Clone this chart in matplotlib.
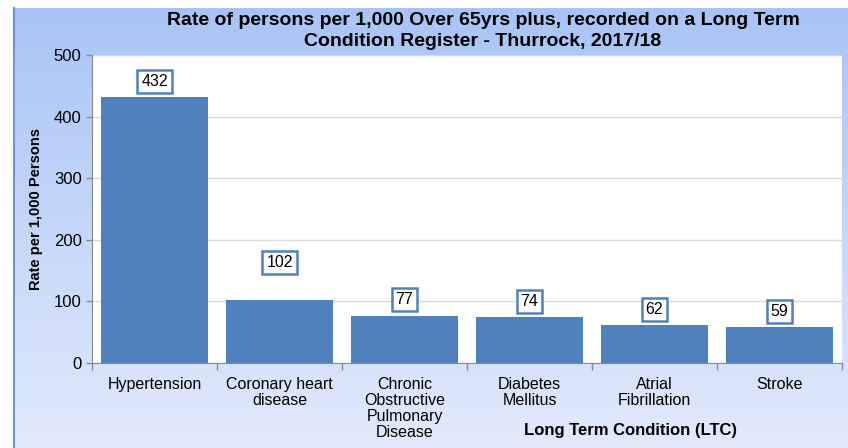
import numpy as np
import matplotlib.pyplot as plt
from matplotlib.colors import LinearSegmentedColormap

plt.rcParams['font.family'] = ['Liberation Sans', 'DejaVu Sans']

# Data
conditions = ['Hypertension', 'Coronary heart\ndisease', 'Chronic\nObstructive\nPulmonary\nDisease',
              'Diabetes\nMellitus', 'Atrial\nFibrillation', 'Stroke']
rates = [432, 102, 77, 74, 62, 59]
# label box offsets above bar tops (points)
label_offsets = [11, 27, 11.5, 11.5, 11, 11]

BAR_COLOR = '#4f81bd'

fig = plt.figure(figsize=(8.48, 4.48), dpi=100)
fig.patch.set_facecolor('white')

# gradient background box of the chart (dark blue at top, pale at bottom)
bg = fig.add_axes([14 / 848, 0, 1 - 14 / 848, 440 / 448], zorder=0)
grad = np.linspace(0, 1, 256).reshape(-1, 1)
cmap = LinearSegmentedColormap.from_list('bg', ['#e2eafc', '#a8c4f6'])
bg.imshow(grad, aspect='auto', cmap=cmap, extent=[0, 1, 0, 1], origin='lower')
bg.set_xlim(0, 1)
bg.set_ylim(0, 1)
bg.set_xticks([])
bg.set_yticks([])
for side in ['top', 'right', 'bottom']:
    bg.spines[side].set_visible(False)
bg.spines['left'].set_color('#6f95d6')
bg.spines['left'].set_linewidth(1.5)

ax = fig.add_axes([92 / 848, 85 / 448, 750 / 848, 308 / 448], zorder=1)
ax.set_facecolor('white')
x = np.arange(len(conditions))
bars = ax.bar(x, rates, width=0.86, color=BAR_COLOR, zorder=3)

for xi, v, off in zip(x, rates, label_offsets):
    ax.annotate(str(v), xy=(xi, v), xytext=(0, off), textcoords='offset points',
                ha='center', va='center', fontsize=11.5, zorder=4,
                bbox=dict(boxstyle='square,pad=0.25', fc='white', ec=BAR_COLOR, lw=1.8))

ax.set_xlim(-0.5, len(conditions) - 0.5)
ax.set_ylim(0, 500)
ax.set_yticks(range(0, 501, 100))
ax.yaxis.grid(True, color='#d9d9d9', lw=1, zorder=0)
ax.tick_params(axis='y', labelsize=12, colors='#898989', labelcolor='black', length=4, width=1)

ax.set_xticks(x)
ax.set_xticklabels(conditions, fontsize=11.5, linespacing=1.1)
ax.set_xticks(np.arange(-0.5, len(conditions), 1), minor=True)
ax.tick_params(axis='x', which='major', length=0, pad=10)
ax.tick_params(axis='x', which='minor', length=5, width=1, colors='#898989')

for side in ['top', 'right']:
    ax.spines[side].set_visible(False)
ax.spines['left'].set_color('#898989')
ax.spines['bottom'].set_color('#898989')

ax.set_ylabel('Rate per 1,000 Persons', fontsize=10.5, fontweight='bold', labelpad=8)
fig.text(630 / 848, 1 - 430 / 448, 'Long Term Condition (LTC)', ha='center', va='center',
         fontsize=12, fontweight='bold')
fig.text(483 / 848, 1 - 31 / 448,
         'Rate of persons per 1,000 Over 65yrs plus, recorded on a Long Term\nCondition Register - Thurrock, 2017/18',
         ha='center', va='center', fontsize=14, fontweight='bold', linespacing=1.25)

fig.savefig('out.png', dpi=100)
